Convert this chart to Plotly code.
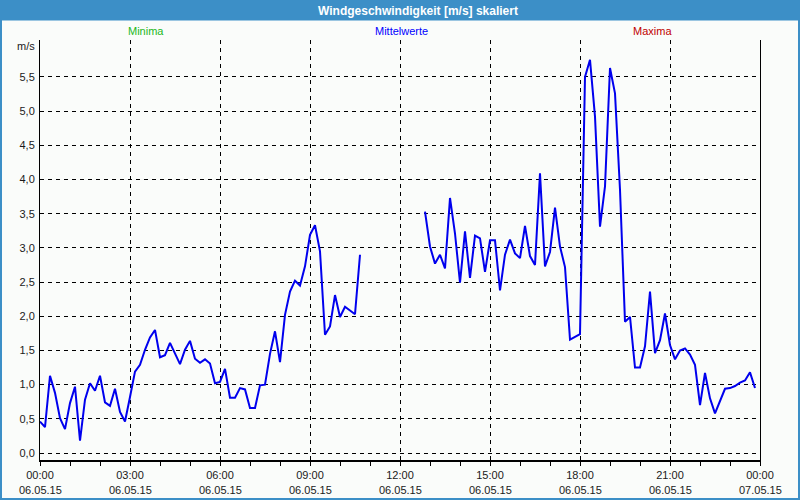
import pandas as pd
import plotly.graph_objects as go

# ---- data (10-minute means, 06.05.15) ----
start_time = "2015-05-06 00:00"
n_samples = 144
wind_ms = [
    0.46, 0.38, 1.13, 0.88, 0.51, 0.35, 0.73, 0.97, 0.18, 0.78,
    1.02, 0.91, 1.13, 0.74, 0.69, 0.94, 0.60, 0.46, 0.82, 1.19,
    1.29, 1.51, 1.69, 1.80, 1.40, 1.43, 1.61, 1.46, 1.30, 1.51,
    1.64, 1.38, 1.32, 1.37, 1.31, 1.02, 1.04, 1.23, 0.81, 0.81,
    0.95, 0.93, 0.66, 0.66, 0.99, 1.00, 1.45, 1.78, 1.33, 2.02,
    2.36, 2.52, 2.45, 2.73, 3.19, 3.33, 2.95, 1.73, 1.85, 2.31,
    1.99, 2.14, 2.09, 2.03, 2.90,
    None, None, None, None, None, None, None, None, None, None, None, None,
    3.53, 3.02, 2.77, 2.90, 2.70, 3.73, 3.21, 2.49, 3.24, 2.56,
    3.18, 3.14, 2.65, 3.11, 3.11, 2.38, 2.90, 3.12, 2.92, 2.85,
    3.32, 2.88, 2.75, 4.09, 2.73, 2.94, 3.59, 3.02, 2.72, 1.66,
    1.70, 1.74, 5.50, 5.75, 4.92, 3.31, 3.90, 5.63, 5.26, 3.85,
    1.92, 1.99, 1.25, 1.25, 1.56, 2.36, 1.46, 1.65, 2.04, 1.58,
    1.37, 1.50, 1.53, 1.44, 1.29, 0.70, 1.17, 0.80, 0.58, 0.75,
    0.94, 0.95, 0.98, 1.03, 1.06, 1.18, 0.95,
]
times = pd.date_range(start_time, periods=n_samples, freq="10min")

tick_times = ["2015-05-06 00:00", "2015-05-06 03:00", "2015-05-06 06:00",
              "2015-05-06 09:00", "2015-05-06 12:00", "2015-05-06 15:00",
              "2015-05-06 18:00", "2015-05-06 21:00", "2015-05-07 00:00"]
tick_hours = ["00:00", "03:00", "06:00", "09:00", "12:00", "15:00", "18:00", "21:00", "00:00"]
tick_dates = ["06.05.15"] * 8 + ["07.05.15"]
y_ticks = [0.0, 0.5, 1.0, 1.5, 2.0, 2.5, 3.0, 3.5, 4.0, 4.5, 5.0, 5.5]
y_ticktext = ["0,0", "0,5", "1,0", "1,5", "2,0", "2,5", "3,0", "3,5", "4,0", "4,5", "5,0", "5,5"]

title_text = "Windgeschwindigkeit [m/s] skaliert"
series_labels = [("Minima", "#22b822"), ("Mittelwerte", "#0000ff"), ("Maxima", "#c00000")]

# ---- figure ----
W, H = 800, 500
ML, MR, MT, MB = 40, 40, 40, 40
PW, PH = W - ML - MR, H - MT - MB
BLUE = "#3c8fc7"
BG = "#fafcfa"
FONT = "Liberation Sans"


def px_x(p):
    return (p - ML) / PW


def px_y(q):
    return (H - MB - q) / PH


fig = go.Figure()
fig.add_trace(go.Scatter(
    x=times, y=wind_ms, mode="lines",
    line=dict(color="#0000ee", width=2),
    connectgaps=False, hoverinfo="x+y", showlegend=False,
))

grid_dash = "4px,4px"
fig.update_layout(
    width=W, height=H,
    margin=dict(l=ML, r=MR, t=MT, b=MB, pad=0),
    paper_bgcolor=BG, plot_bgcolor=BG,
    font=dict(family=FONT, size=11, color="#1a1a1a"),
    showlegend=False,
    xaxis=dict(
        range=[tick_times[0], tick_times[-1]],
        tickvals=tick_times, ticktext=tick_hours,
        ticks="outside", ticklen=4, tickcolor="black", tickwidth=1,
        showgrid=True, gridcolor="black", gridwidth=1, griddash=grid_dash,
        minor=dict(dtick=3600000, ticks="outside", ticklen=4, tickcolor="black", showgrid=False),
        showline=True, linecolor="black", linewidth=2, mirror=False,
        zeroline=False, tickfont=dict(size=11, color="#1a1a1a"),
    ),
    yaxis=dict(
        range=[-0.102, 6.04],
        tickvals=y_ticks, ticktext=y_ticktext,
        ticks="", showgrid=True, gridcolor="black", gridwidth=1, griddash=grid_dash,
        showline=True, linecolor="black", linewidth=1, mirror=True,
        zeroline=False, tickfont=dict(size=11, color="#1a1a1a"),
        ticklabelstandoff=2,
    ),
)

shapes = [
    # title bar
    dict(type="rect", xref="paper", yref="paper", x0=px_x(0), x1=px_x(W), y0=px_y(20.5), y1=px_y(0),
         fillcolor=BLUE, line=dict(width=0), layer="below"),
    # window borders
    dict(type="rect", xref="paper", yref="paper", x0=px_x(0), x1=px_x(2), y0=px_y(H), y1=px_y(0),
         fillcolor=BLUE, line=dict(width=0)),
    dict(type="rect", xref="paper", yref="paper", x0=px_x(W - 2), x1=px_x(W), y0=px_y(H), y1=px_y(0),
         fillcolor=BLUE, line=dict(width=0)),
    dict(type="rect", xref="paper", yref="paper", x0=px_x(0), x1=px_x(W), y0=px_y(H), y1=px_y(H - 2),
         fillcolor=BLUE, line=dict(width=0)),
]
fig.update_layout(shapes=shapes)

ann = [
    dict(text=f"<b>{title_text}</b>", xref="paper", yref="paper", x=px_x(418), y=px_y(10.5),
         xanchor="center", yanchor="middle", showarrow=False,
         font=dict(family=FONT, size=12, color="white")),
    dict(text="m/s", xref="paper", yref="paper", x=px_x(37), y=px_y(46),
         xanchor="right", yanchor="middle", showarrow=False,
         font=dict(family=FONT, size=11, color="#1a1a1a")),
]
for (label, color), cx in zip(series_labels, [146, 401, 652]):
    ann.append(dict(text=label, xref="paper", yref="paper", x=px_x(cx), y=px_y(31),
                    xanchor="center", yanchor="middle", showarrow=False,
                    font=dict(family=FONT, size=11, color=color)))
for tv, td in zip(tick_times, tick_dates):
    ann.append(dict(text=td, xref="x", yref="paper", x=tv, y=px_y(490),
                    xanchor="center", yanchor="middle", showarrow=False,
                    font=dict(family=FONT, size=11, color="#1a1a1a")))
fig.update_layout(annotations=ann)

fig.write_html("out.html")
